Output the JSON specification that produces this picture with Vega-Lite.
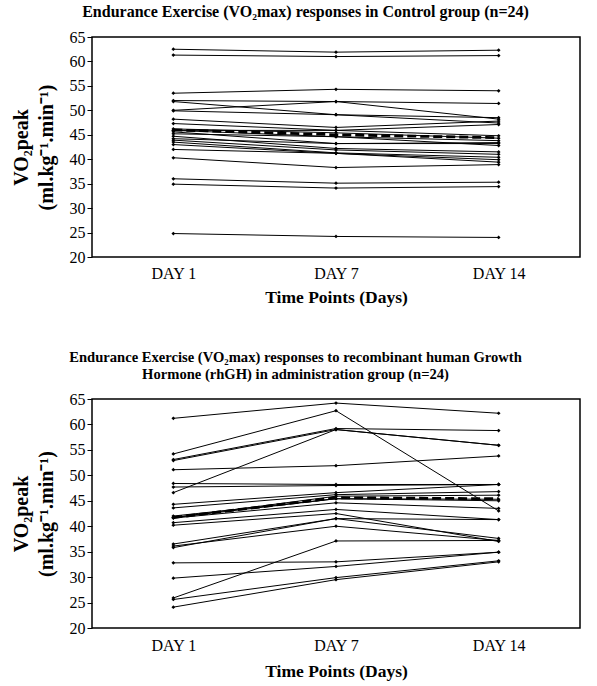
{
  "$schema": "https://vega.github.io/schema/vega-lite/v6.json",
  "background": "white",
  "padding": {"left": 10, "top": 3, "right": 5, "bottom": 3},
  "config": {
    "font": "Liberation Serif",
    "view": {"stroke": "black", "strokeWidth": 1.5},
    "axis": {"labelFont": "Liberation Serif", "titleFont": "Liberation Serif", "labelColor": "black", "titleColor": "black", "grid": false, "domain": false, "labelFontSize": 16, "titleFontSize": 17.5, "titleFontWeight": "bold", "tickColor": "black", "labelOverlap": false},
    "title": {"font": "Liberation Serif", "fontWeight": "bold", "color": "black", "anchor": "middle", "frame": "bounds"}
  },
  "datasets": {
    "control": [
      {"s": "S1", "day": "DAY 1", "v": 62.5}, {"s": "S1", "day": "DAY 7", "v": 61.9}, {"s": "S1", "day": "DAY 14", "v": 62.3},
      {"s": "S2", "day": "DAY 1", "v": 61.3}, {"s": "S2", "day": "DAY 7", "v": 61.0}, {"s": "S2", "day": "DAY 14", "v": 61.2},
      {"s": "S3", "day": "DAY 1", "v": 53.5}, {"s": "S3", "day": "DAY 7", "v": 54.3}, {"s": "S3", "day": "DAY 14", "v": 54.0},
      {"s": "S4", "day": "DAY 1", "v": 52.0}, {"s": "S4", "day": "DAY 7", "v": 51.8}, {"s": "S4", "day": "DAY 14", "v": 51.4},
      {"s": "S5", "day": "DAY 1", "v": 51.8}, {"s": "S5", "day": "DAY 7", "v": 49.1}, {"s": "S5", "day": "DAY 14", "v": 47.4},
      {"s": "S6", "day": "DAY 1", "v": 50.0}, {"s": "S6", "day": "DAY 7", "v": 51.8}, {"s": "S6", "day": "DAY 14", "v": 48.2},
      {"s": "S7", "day": "DAY 1", "v": 49.9}, {"s": "S7", "day": "DAY 7", "v": 49.1}, {"s": "S7", "day": "DAY 14", "v": 48.5},
      {"s": "S8", "day": "DAY 1", "v": 48.2}, {"s": "S8", "day": "DAY 7", "v": 46.5}, {"s": "S8", "day": "DAY 14", "v": 47.8},
      {"s": "S9", "day": "DAY 1", "v": 47.3}, {"s": "S9", "day": "DAY 7", "v": 45.9}, {"s": "S9", "day": "DAY 14", "v": 47.1},
      {"s": "S10", "day": "DAY 1", "v": 46.2}, {"s": "S10", "day": "DAY 7", "v": 45.4}, {"s": "S10", "day": "DAY 14", "v": 44.3},
      {"s": "S11", "day": "DAY 1", "v": 45.9}, {"s": "S11", "day": "DAY 7", "v": 44.6}, {"s": "S11", "day": "DAY 14", "v": 43.8},
      {"s": "S12", "day": "DAY 1", "v": 45.6}, {"s": "S12", "day": "DAY 7", "v": 43.2}, {"s": "S12", "day": "DAY 14", "v": 43.2},
      {"s": "S13", "day": "DAY 1", "v": 45.2}, {"s": "S13", "day": "DAY 7", "v": 44.6}, {"s": "S13", "day": "DAY 14", "v": 42.8},
      {"s": "S14", "day": "DAY 1", "v": 44.7}, {"s": "S14", "day": "DAY 7", "v": 42.2}, {"s": "S14", "day": "DAY 14", "v": 41.5},
      {"s": "S15", "day": "DAY 1", "v": 44.2}, {"s": "S15", "day": "DAY 7", "v": 43.2}, {"s": "S15", "day": "DAY 14", "v": 43.4},
      {"s": "S16", "day": "DAY 1", "v": 43.9}, {"s": "S16", "day": "DAY 7", "v": 41.9}, {"s": "S16", "day": "DAY 14", "v": 41.0},
      {"s": "S17", "day": "DAY 1", "v": 43.5}, {"s": "S17", "day": "DAY 7", "v": 41.3}, {"s": "S17", "day": "DAY 14", "v": 40.4},
      {"s": "S18", "day": "DAY 1", "v": 43.0}, {"s": "S18", "day": "DAY 7", "v": 41.2}, {"s": "S18", "day": "DAY 14", "v": 39.9},
      {"s": "S19", "day": "DAY 1", "v": 42.0}, {"s": "S19", "day": "DAY 7", "v": 41.2}, {"s": "S19", "day": "DAY 14", "v": 39.4},
      {"s": "S20", "day": "DAY 1", "v": 40.3}, {"s": "S20", "day": "DAY 7", "v": 38.3}, {"s": "S20", "day": "DAY 14", "v": 38.9},
      {"s": "S21", "day": "DAY 1", "v": 36.0}, {"s": "S21", "day": "DAY 7", "v": 35.1}, {"s": "S21", "day": "DAY 14", "v": 35.3},
      {"s": "S22", "day": "DAY 1", "v": 34.9}, {"s": "S22", "day": "DAY 7", "v": 34.1}, {"s": "S22", "day": "DAY 14", "v": 34.4},
      {"s": "S23", "day": "DAY 1", "v": 24.8}, {"s": "S23", "day": "DAY 7", "v": 24.2}, {"s": "S23", "day": "DAY 14", "v": 24.0},
      {"s": "S24", "day": "DAY 1", "v": 45.9}, {"s": "S24", "day": "DAY 7", "v": 45.9}, {"s": "S24", "day": "DAY 14", "v": 44.8}
    ],
    "controlMean": [
      {"day": "DAY 1", "v": 46.0}, {"day": "DAY 7", "v": 45.0}, {"day": "DAY 14", "v": 44.4}
    ],
    "rhgh": [
      {"s": "R1", "day": "DAY 1", "v": 61.2}, {"s": "R1", "day": "DAY 7", "v": 64.2}, {"s": "R1", "day": "DAY 14", "v": 62.2},
      {"s": "R2", "day": "DAY 1", "v": 54.2}, {"s": "R2", "day": "DAY 7", "v": 62.7}, {"s": "R2", "day": "DAY 14", "v": 43.0},
      {"s": "R3", "day": "DAY 1", "v": 53.1}, {"s": "R3", "day": "DAY 7", "v": 59.2}, {"s": "R3", "day": "DAY 14", "v": 58.8},
      {"s": "R4", "day": "DAY 1", "v": 52.9}, {"s": "R4", "day": "DAY 7", "v": 59.0}, {"s": "R4", "day": "DAY 14", "v": 55.9},
      {"s": "R5", "day": "DAY 1", "v": 46.6}, {"s": "R5", "day": "DAY 7", "v": 59.0}, {"s": "R5", "day": "DAY 14", "v": 55.9},
      {"s": "R6", "day": "DAY 1", "v": 51.1}, {"s": "R6", "day": "DAY 7", "v": 51.9}, {"s": "R6", "day": "DAY 14", "v": 53.8},
      {"s": "R7", "day": "DAY 1", "v": 48.4}, {"s": "R7", "day": "DAY 7", "v": 48.2}, {"s": "R7", "day": "DAY 14", "v": 48.2},
      {"s": "R8", "day": "DAY 1", "v": 47.7}, {"s": "R8", "day": "DAY 7", "v": 48.0}, {"s": "R8", "day": "DAY 14", "v": 48.2},
      {"s": "R9", "day": "DAY 1", "v": 44.3}, {"s": "R9", "day": "DAY 7", "v": 46.6}, {"s": "R9", "day": "DAY 14", "v": 48.2},
      {"s": "R10", "day": "DAY 1", "v": 43.6}, {"s": "R10", "day": "DAY 7", "v": 46.2}, {"s": "R10", "day": "DAY 14", "v": 46.8},
      {"s": "R11", "day": "DAY 1", "v": 41.7}, {"s": "R11", "day": "DAY 7", "v": 45.9}, {"s": "R11", "day": "DAY 14", "v": 46.1},
      {"s": "R12", "day": "DAY 1", "v": 41.7}, {"s": "R12", "day": "DAY 7", "v": 45.4}, {"s": "R12", "day": "DAY 14", "v": 45.3},
      {"s": "R13", "day": "DAY 1", "v": 41.6}, {"s": "R13", "day": "DAY 7", "v": 44.6}, {"s": "R13", "day": "DAY 14", "v": 43.5},
      {"s": "R14", "day": "DAY 1", "v": 40.7}, {"s": "R14", "day": "DAY 7", "v": 43.3}, {"s": "R14", "day": "DAY 14", "v": 41.3},
      {"s": "R15", "day": "DAY 1", "v": 40.2}, {"s": "R15", "day": "DAY 7", "v": 42.5}, {"s": "R15", "day": "DAY 14", "v": 37.0},
      {"s": "R16", "day": "DAY 1", "v": 36.5}, {"s": "R16", "day": "DAY 7", "v": 41.5}, {"s": "R16", "day": "DAY 14", "v": 37.6},
      {"s": "R17", "day": "DAY 1", "v": 36.1}, {"s": "R17", "day": "DAY 7", "v": 40.0}, {"s": "R17", "day": "DAY 14", "v": 37.2},
      {"s": "R18", "day": "DAY 1", "v": 35.8}, {"s": "R18", "day": "DAY 7", "v": 41.5}, {"s": "R18", "day": "DAY 14", "v": 41.3},
      {"s": "R19", "day": "DAY 1", "v": 32.8}, {"s": "R19", "day": "DAY 7", "v": 33.0}, {"s": "R19", "day": "DAY 14", "v": 34.9},
      {"s": "R20", "day": "DAY 1", "v": 29.8}, {"s": "R20", "day": "DAY 7", "v": 32.1}, {"s": "R20", "day": "DAY 14", "v": 34.9},
      {"s": "R21", "day": "DAY 1", "v": 25.9}, {"s": "R21", "day": "DAY 7", "v": 37.1}, {"s": "R21", "day": "DAY 14", "v": 37.2},
      {"s": "R22", "day": "DAY 1", "v": 25.6}, {"s": "R22", "day": "DAY 7", "v": 29.9}, {"s": "R22", "day": "DAY 14", "v": 33.2},
      {"s": "R23", "day": "DAY 1", "v": 24.1}, {"s": "R23", "day": "DAY 7", "v": 29.5}, {"s": "R23", "day": "DAY 14", "v": 33.0},
      {"s": "R24", "day": "DAY 1", "v": 42.0}, {"s": "R24", "day": "DAY 7", "v": 45.4}, {"s": "R24", "day": "DAY 14", "v": 45.0}
    ],
    "rhghMean": [
      {"day": "DAY 1", "v": 41.7}, {"day": "DAY 7", "v": 45.6}, {"day": "DAY 14", "v": 45.4}
    ]
  },
  "vconcat": [
    {
      "title": {"text": "Endurance Exercise (VO₂max) responses in Control group (n=24)", "offset": 9, "fontSize": 16, "dx": 10},
      "width": 488,
      "height": 220,
      "encoding": {
        "x": {"field": "day", "type": "nominal", "sort": ["DAY 1", "DAY 7", "DAY 14"], "scale": {"type": "point", "padding": 0.5}, "axis": {"title": "Time Points (Days)", "labelAngle": 0, "ticks": false, "labelPadding": 8, "titlePadding": 7}},
        "y": {"field": "v", "type": "quantitative", "scale": {"domain": [20, 65], "nice": false, "zero": false}, "axis": {"values": [20, 25, 30, 35, 40, 45, 50, 55, 60, 65], "labelOverlap": false, "title": ["VO₂peak", "(ml.kg⁻¹.min⁻¹)"], "titleFontSize": 20, "titleLineHeight": 25, "tickSize": 5, "labelPadding": 2, "titlePadding": 13}}
      },
      "layer": [
        {
          "data": {"name": "control"},
          "mark": {"type": "line", "color": "black", "strokeWidth": 1},
          "encoding": {"detail": {"field": "s"}}
        },
        {
          "data": {"name": "control"},
          "mark": {"type": "point", "shape": "diamond", "filled": true, "color": "black", "size": 14, "opacity": 1}
        },
        {
          "data": {"name": "controlMean"},
          "mark": {"type": "line", "color": "black", "strokeWidth": 2.8, "strokeDash": [9, 4]}
        }
      ]
    },
    {
      "title": {"text": ["Endurance Exercise (VO₂max) responses to recombinant human Growth", "Hormone (rhGH) in administration group (n=24)"], "offset": 9, "lineHeight": 17, "fontSize": 14.6},
      "width": 488,
      "height": 229,
      "encoding": {
        "x": {"field": "day", "type": "nominal", "sort": ["DAY 1", "DAY 7", "DAY 14"], "scale": {"type": "point", "padding": 0.5}, "axis": {"title": "Time Points (Days)", "labelAngle": 0, "ticks": false, "labelPadding": 9, "titlePadding": 9}},
        "y": {"field": "v", "type": "quantitative", "scale": {"domain": [20, 65], "nice": false, "zero": false}, "axis": {"values": [20, 25, 30, 35, 40, 45, 50, 55, 60, 65], "labelOverlap": false, "title": ["VO₂peak", "(ml.kg⁻¹.min⁻¹)"], "titleFontSize": 20, "titleLineHeight": 25, "tickSize": 5, "labelPadding": 2, "titlePadding": 13}}
      },
      "layer": [
        {
          "data": {"name": "rhgh"},
          "mark": {"type": "line", "color": "black", "strokeWidth": 1},
          "encoding": {"detail": {"field": "s"}}
        },
        {
          "data": {"name": "rhgh"},
          "mark": {"type": "point", "shape": "diamond", "filled": true, "color": "black", "size": 14, "opacity": 1}
        },
        {
          "data": {"name": "rhghMean"},
          "mark": {"type": "line", "color": "black", "strokeWidth": 2.8, "strokeDash": [9, 4]}
        }
      ]
    }
  ],
  "spacing": 42
}
